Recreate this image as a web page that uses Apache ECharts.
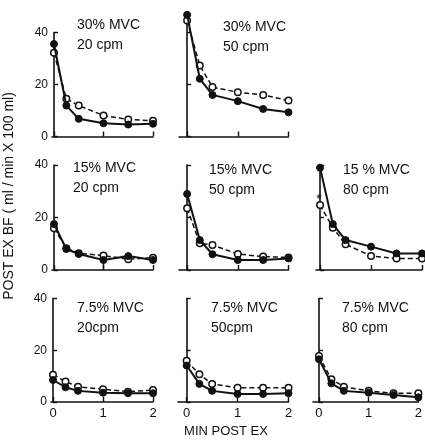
<!DOCTYPE html>
<html><head><meta charset="utf-8">
<script src="https://cdn.jsdelivr.net/npm/echarts@6/dist/echarts.min.js"></script>
<style>html,body{margin:0;padding:0;background:#fff}#c{width:425px;height:441px}</style>
</head><body><div id="c"></div>
<script>
// time points (min post exercise)
const times = [0, 0.25, 0.5, 1, 1.5, 2];
const yTicks = [0, 20, 40];
const xTickLabels = ['0', '1', '2'];

// panel labels
const panelLabels = [
  '30% MVC\n20 cpm', '30% MVC\n50 cpm',
  '15% MVC\n20 cpm', '15% MVC\n50 cpm', '15 % MVC\n80 cpm',
  '7.5% MVC\n20cpm', '7.5% MVC\n50cpm', '7.5% MVC\n80 cpm'
];

// filled circles (solid line)
const p1Filled = [35.6, 11.9, 6.8, 5.1, 4.6, 4.9];
const p2Filled = [46.8, 22.2, 16.0, 13.6, 10.6, 9.3];
const p4Filled = [17.5, 8.0, 6.1, 3.8, 5.3, 3.8];
const p5Filled = [29.0, 11.4, 6.0, 3.8, 3.8, 4.4];
const p6Filled = [39.0, 17.5, 11.4, 8.9, 6.3, 6.3];
const p7Filled = [8.5, 5.7, 4.3, 3.6, 3.4, 3.4];
const p8Filled = [14.1, 7.0, 4.3, 3.1, 3.1, 3.4];
const p9Filled = [16.5, 7.2, 4.3, 3.6, 2.7, 1.8];

// open circles (dashed line)
const p1Open = [32.2, 14.5, 11.9, 8.1, 6.5, 6.1];
const p2Open = [44.6, 27.3, 19.0, 17.0, 16.0, 13.8];
const p4Open = [15.9, 8.3, 6.4, 5.5, 4.1, 4.7];
const p5Open = [23.5, 10.2, 9.5, 6.1, 5.1, 4.8];
const p6Open = [24.8, 16.1, 9.8, 5.3, 4.4, 4.4];
const p7Open = [10.5, 7.9, 5.9, 4.9, 4.0, 4.6];
const p8Open = [15.9, 10.7, 7.0, 5.5, 5.5, 5.5];
const p9Open = [17.8, 8.8, 5.9, 4.3, 3.4, 3.4];

// error bar (15% MVC 20 cpm, at 1 min) and significance mark (15% MVC 80 cpm)
const errBarX = 1, errBarLow = 0.4, errBarHigh = 5.7;
const starX = 0, starY = 28;

const filledSets = [p1Filled, p2Filled, p4Filled, p5Filled, p6Filled, p7Filled, p8Filled, p9Filled];
const openSets = [p1Open, p2Open, p4Open, p5Open, p6Open, p7Open, p8Open, p9Open];

// layout: [left, top, width, height, xMin, yMax, showYLabels, showXLabels]
const layout = [
  [52, 32.5, 101, 104, -0.04, 40, true, false],
  [179, 13, 109.5, 123.5, -0.16, 47.5, false, false],
  [52, 165, 101, 105, -0.04, 40, true, false],
  [179, 165, 109.5, 105, -0.16, 40, false, false],
  [316, 165, 106, 105, -0.08, 40, false, false],
  [51, 298.5, 102, 103.5, -0.04, 40, true, true],
  [178, 298.5, 110.5, 103.5, -0.17, 40, false, true],
  [313, 298.5, 109, 103.5, -0.12, 40, false, true]
];
const labelPos = [[77,15],[223,17],[73,158],[209,160],[343,160],[77,298],[211,298],[342,298]];

const FONT = '"Liberation Sans Narrow", "Liberation Sans", Arial, sans-serif';
const NUMFONT = '"Liberation Sans", Arial, sans-serif';
const INK = '#111';

const grids = [], xAxes = [], yAxes = [], series = [], titles = [];
layout.forEach((L, i) => {
  grids.push({left: L[0], top: L[1], width: L[2], height: L[3], containLabel: false});
  xAxes.push({
    type: 'value', gridIndex: i, min: L[4], max: 2, interval: 1,
    axisLine: {show: true, onZero: false, lineStyle: {color: INK, width: 1.6}},
    axisTick: {show: true, inside: true, length: 5, lineStyle: {color: INK, width: 1.4},
      customValues: [0, 1, 2]},
    axisLabel: {show: L[7], customValues: [0, 1, 2], margin: 5, color: INK, fontSize: 13, fontFamily: NUMFONT,
      formatter: v => xTickLabels[Math.round(v)]},
    splitLine: {show: false}
  });
  yAxes.push({
    type: 'value', gridIndex: i, min: 0, max: L[5], interval: 20,
    axisLine: {show: true, lineStyle: {color: INK, width: 1.6}},
    axisTick: {show: true, inside: true, length: 4, lineStyle: {color: INK, width: 1.4},
      customValues: yTicks},
    axisLabel: {show: L[6], customValues: yTicks, margin: 4, color: INK, fontSize: 12, fontFamily: NUMFONT},
    splitLine: {show: false}
  });
  series.push({
    type: 'line', xAxisIndex: i, yAxisIndex: i, clip: false,
    data: times.map((t, k) => [t, openSets[i][k]]),
    symbol: 'circle', symbolSize: 6.5,
    itemStyle: {color: '#fff', borderColor: INK, borderWidth: 1.5},
    lineStyle: {color: INK, width: 1.5, type: [5, 3]},
    z: 2
  });
  series.push({
    type: 'line', xAxisIndex: i, yAxisIndex: i, clip: false,
    data: times.map((t, k) => [t, filledSets[i][k]]),
    symbol: 'circle', symbolSize: 7,
    itemStyle: {color: INK, borderColor: INK, borderWidth: 1},
    lineStyle: {color: INK, width: 2},
    z: 3
  });
  titles.push({
    text: panelLabels[i], left: labelPos[i][0], top: labelPos[i][1], padding: 0,
    textStyle: {fontFamily: FONT, fontSize: 14, fontWeight: 'normal', color: INK, lineHeight: 20}
  });
});
// error bar on panel index 2
series.push({
  type: 'line', xAxisIndex: 2, yAxisIndex: 2, clip: false, showSymbol: false, symbol: 'none',
  data: [[errBarX, errBarLow], [errBarX, errBarHigh]],
  lineStyle: {color: INK, width: 1.4}, z: 1
});
// significance asterisk on panel index 4
series.push({
  type: 'scatter', xAxisIndex: 4, yAxisIndex: 4, clip: false,
  data: [[starX, starY]], symbol: 'circle', symbolSize: 1,
  itemStyle: {color: INK},
  label: {show: true, position: 'inside', formatter: '*', fontSize: 13, fontWeight: 'bold', color: INK, offset: [-1, 3]}
});
titles.push({
  text: 'MIN POST EX', left: 226, top: 425, textAlign: 'center', padding: 0,
  textStyle: {fontFamily: FONT, fontSize: 13, fontWeight: 'normal', color: INK}
});

const chart = echarts.init(document.getElementById('c'), null, {renderer: 'canvas'});
chart.setOption({
  animation: false,
  backgroundColor: '#fff',
  title: titles,
  grid: grids, xAxis: xAxes, yAxis: yAxes, series: series,
  graphic: [{
    type: 'text', x: 9, y: 196, rotation: Math.PI / 2, silent: true,
    style: {text: 'POST EX BF ( ml / min X 100 ml)', fontFamily: FONT, fontSize: 14,
      fill: INK, align: 'center', verticalAlign: 'middle'}
  }]
});
</script></body></html>
